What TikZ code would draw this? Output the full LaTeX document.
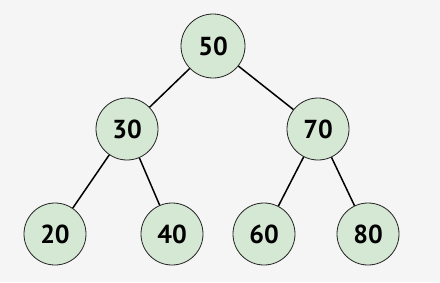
\documentclass[tikz,border=0pt]{standalone}
\usepackage{fontspec}
\setsansfont{PT Sans}
\definecolor{bg}{HTML}{F5F5F5}
\definecolor{nodefill}{HTML}{D5E8D4}
\definecolor{nodeline}{HTML}{222222}
\begin{document}
\begin{tikzpicture}[x=1pt,y=-1pt,
  tnode/.style={circle,draw=nodeline,line width=0.8pt,fill=nodefill,minimum size=62pt,inner sep=0pt,
    font=\sffamily\bfseries\fontsize{26}{26}\selectfont},
  edge/.style={draw=black,line width=1.5pt}]
\fill[bg] (0,0) rectangle (440,282);
\useasboundingbox (0,0) rectangle (440,282);
\node[tnode,minimum size=64pt] (n50) at (213,46) {50};
\node[tnode] (n30) at (127,129) {30};
\node[tnode] (n70) at (318,129) {70};
\node[tnode] (n20) at (55,234) {20};
\node[tnode] (n40) at (172,234) {40};
\node[tnode] (n60) at (264,234) {60};
\node[tnode] (n80) at (368,234) {80};
\draw[edge] (n50) -- (n30);
\draw[edge] (n50) -- (n70);
\draw[edge] (n30) -- (n20);
\draw[edge] (n30) -- (n40);
\draw[edge] (n70) -- (n60);
\draw[edge] (n70) -- (n80);
\end{tikzpicture}
\end{document}
